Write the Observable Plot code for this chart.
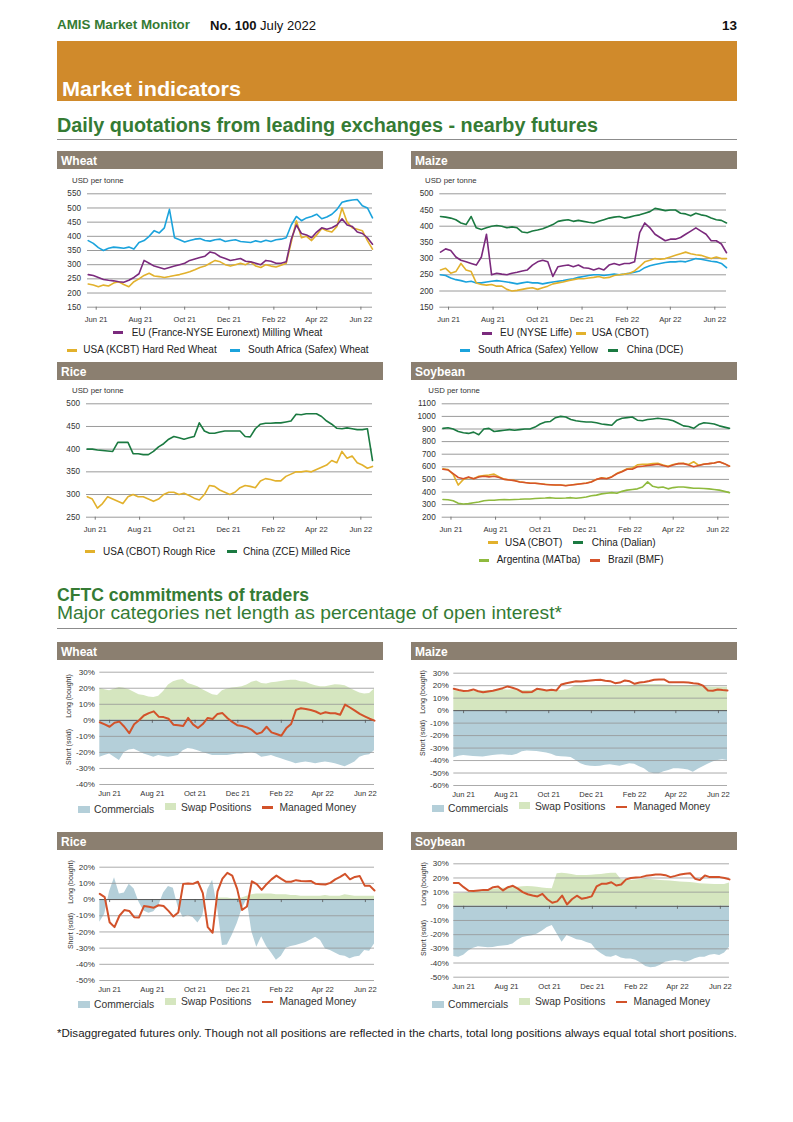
<!DOCTYPE html>
<html><head><meta charset="utf-8">
<script src="https://cdn.jsdelivr.net/npm/d3@7"></script>
<script src="https://cdn.jsdelivr.net/npm/@observablehq/plot@0.6"></script>
<style>
body{margin:0;background:#fff;}
#page{position:relative;width:793px;height:1122px;overflow:hidden;font-family:"Liberation Sans",Arial,Helvetica,sans-serif;}
.t{position:absolute;white-space:nowrap;line-height:1;}
.box{position:absolute;}
.chart{position:absolute;}
.chart svg{overflow:visible;}
</style></head><body><div id="page"></div>
<script>
// ---------------- DATA ----------------
const tickLabels = ["Jun 21","Aug 21","Oct 21","Dec 21","Feb 22","Apr 22","Jun 22"];
const tickDates = [Date.UTC(2021,5,1),Date.UTC(2021,7,1),Date.UTC(2021,9,1),Date.UTC(2021,11,1),Date.UTC(2022,1,1),Date.UTC(2022,3,1),Date.UTC(2022,5,1)].map(t=>new Date(t));
const priceStart = Date.UTC(2021,4,21);   // weekly price quotations (Fridays)
const cftcStart = Date.UTC(2021,4,18);    // weekly CFTC reports (Tuesdays)

// Wheat (USD per tonne)
const wheatEU = [265,262,255,248,245,243,240,238,245,255,268,315,305,295,290,285,290,295,300,305,315,320,325,330,345,340,328,322,315,318,322,312,310,305,300,315,312,305,305,310,390,440,410,405,395,415,430,425,430,440,462,440,435,415,410,395,372];
const wheatUSA = [232,228,222,228,225,235,240,230,222,240,250,262,270,260,258,255,258,262,265,270,275,282,290,295,305,315,310,300,295,300,305,300,310,295,290,300,295,292,298,305,380,455,395,400,385,405,428,420,415,435,500,450,430,425,420,385,355];
const wheatSA = [385,375,360,350,358,362,360,358,362,355,378,385,400,420,412,430,495,395,388,380,385,390,392,385,383,388,390,382,385,388,382,380,378,384,380,386,382,388,390,395,440,470,455,465,470,478,462,468,478,495,520,525,528,530,508,500,465];
// Maize
const maizeEU = [320,330,325,305,295,290,285,280,305,375,250,255,252,250,255,258,262,265,280,290,295,290,245,275,278,280,275,280,272,270,265,270,265,280,285,280,285,285,290,380,410,395,375,365,355,360,360,365,375,385,395,385,375,355,355,345,318];
const maizeUSA = [265,270,255,260,285,265,260,225,220,218,220,215,215,205,200,202,205,208,210,205,210,215,222,225,228,232,235,238,238,240,242,245,240,242,248,250,252,255,262,275,290,295,300,298,300,305,310,315,320,315,312,310,305,300,305,300,300];
const maizeSA = [250,248,240,235,232,228,230,225,225,228,230,232,230,228,225,222,225,228,225,225,222,225,228,230,232,235,238,242,245,248,250,250,248,250,252,250,252,255,258,262,272,278,282,285,288,290,290,292,290,295,300,298,295,292,290,285,272];
const maizeChina = [430,428,425,420,410,405,430,395,390,395,400,402,400,395,398,395,382,380,385,388,392,398,405,415,418,420,415,418,415,412,410,415,420,425,428,430,425,428,432,435,440,445,455,452,448,450,450,440,438,432,440,435,432,425,420,418,410];
// Rice
const riceChina = [400,400,398,397,396,395,415,415,415,390,390,388,388,395,405,412,422,428,425,422,425,428,458,440,435,435,438,440,440,440,440,428,427,445,455,457,457,458,458,460,462,477,476,478,478,478,472,462,455,446,445,447,445,443,443,445,375];
const riceUSA = [295,290,270,280,295,290,285,280,295,300,295,295,290,285,290,300,305,305,300,303,298,292,288,300,320,318,310,305,300,305,315,320,318,315,330,335,333,330,330,340,345,350,350,352,350,355,360,365,375,370,395,380,385,370,365,358,362];
// Soybean
const soyChina = [905,910,900,880,870,865,875,855,900,905,880,885,890,895,890,895,900,900,915,940,955,960,990,1000,995,975,965,960,955,955,950,940,935,930,970,985,990,995,970,965,975,980,985,980,975,965,945,925,920,905,935,950,945,940,925,915,905];
const soyBrazil = [580,575,545,515,505,520,505,520,525,520,525,515,500,495,490,480,475,470,470,465,460,458,455,455,450,455,460,465,470,480,500,510,505,520,545,560,580,580,600,605,610,615,620,610,600,615,625,625,615,600,610,620,625,630,640,625,605];
const soyUSA = [585,578,540,455,500,515,505,525,530,535,542,520,502,495,492,482,476,472,470,466,462,458,456,455,452,456,462,466,472,482,500,512,507,522,548,565,585,590,615,620,620,625,628,615,605,618,625,628,618,640,612,622,625,630,640,625,605];
const soyArgentina = [340,338,330,310,305,308,315,320,330,335,335,338,340,338,340,342,345,345,348,350,352,355,350,350,352,355,350,355,360,370,375,385,390,395,390,405,415,420,425,440,480,445,435,440,425,435,440,440,435,430,430,428,425,420,415,405,395];

// CFTC net length (% of open interest)
const wheatMM = [-1.2,-2.5,-4,-1.5,-0.8,-4,-8,-2.5,0,3,4.5,5.6,2.3,2,1,-2.7,-3,-3.5,1.5,-2.5,-4.8,-2.3,1.5,0.8,4,4.5,1.5,-1,-3,-3.5,-4.4,-6,-8.5,-7.5,-4,-7.5,-8.5,-9.6,-5,-2.3,6.5,7.5,7,6.4,5.5,4,5,4.4,4.4,3.5,9.8,8,6,4,2.5,1,-0.2];
const wheatSwap = [20,19,18.5,19.5,20.5,20,19,17.5,16,15.4,14.5,14.3,15,18,22,24,25,25.5,23,22,21,19,17.5,16,15.4,18.5,19.5,20.2,20.5,21,22,23.7,24.5,23,22.7,23.5,23.7,24.2,24.7,25,25,24,23.7,22.5,21.6,21,21,21.5,22.2,22,21.6,20,18.5,17,16.4,16.8,19.5];
const wheatComm = [-23,-22,-21,-23,-25,-20,-18.5,-18,-19.5,-21,-22,-23,-22,-22.5,-23,-22.5,-22,-19,-17.5,-18,-19,-20,-21,-22,-22,-22,-22,-21.5,-21,-21,-20.5,-20,-21,-23,-22.5,-22,-23,-24,-25,-26,-27,-26.5,-26,-26.5,-27,-26.5,-26,-26.5,-27,-28,-29,-27.5,-26,-23,-22,-21.5,-19];
const maizeMM = [17.5,16.5,15.7,16,17,15.5,14.8,15.4,16,17,18,19.4,18.3,17,14.8,14.8,15,17.5,17,16.2,16.7,16.2,21,22,22.8,23.5,23.4,23.8,24.2,24.5,24.7,24,23.6,22,22.5,24.2,23.5,21.5,22.5,23,23.8,24.7,25,25,22.8,22.8,22.8,22.7,22.6,22,21.5,20,16.2,16,17,16.5,16.2];
const maizeSwap = [16.2,15.5,14.8,15,15.5,15.7,16,16.2,16.2,16.5,16.7,16.5,16.7,16.5,16.2,16.2,16.2,16.2,16.2,16.2,16.2,16.2,16.2,16.5,18,20.2,20.2,20,19.4,19.5,19.8,20.2,20,19.8,19.5,19.4,20,20.5,21,21,21,21,21,20.8,20.5,20.2,20.2,20.2,20.2,20.2,20,19.5,19,18.8,18.8,18.8,18.8];
const maizeComm = [-37.8,-36.5,-36,-36.3,-36.7,-37,-37.2,-36.5,-36,-35.5,-35.4,-35.8,-36,-35,-33,-32.4,-32.5,-32.7,-33.3,-34,-35,-36.5,-37,-37.2,-37.5,-39.9,-42.5,-43.9,-44.5,-44.7,-44.5,-43.8,-43.4,-44,-44.5,-43.5,-42.5,-43,-45,-46.6,-49.5,-50.5,-50.6,-49,-48,-46.6,-46.6,-46.9,-47.5,-49.3,-47,-45,-43,-41.2,-40,-39.4,-39.9];
const riceMM = [3.5,1.5,-14,-17,-10,-6.5,-7,-10.9,-11,-4,-4.5,-5,-3.5,-4,-7,-10.5,-8,9.7,10,9.7,11,4,-17,-20.5,5,13,16.5,14.8,6.6,-6.4,-4.3,11.3,9.5,6,9.5,12.5,14.8,12.8,11,11,12,11.5,11.3,11.5,9.7,9.5,9.3,10.3,12.5,14,15.9,12.5,14,14.5,8.6,8.6,5.6];
const riceSwap = [0,0,0,0,0,0,0,0,0,0,0,0,0,0,0,0,0,0,0,0,0,0,0,0.5,1,1,1,0.5,0.5,1,2,3,3.5,3.5,3.5,3.5,3,3,3,2.5,2.5,2,2,2,2,2,2.5,2,2,2,3,2.5,2,2,2,2,2];
const riceComm = [-14,-9,5,13.5,3.5,4,9.5,6.5,-1.6,-7,-8.5,-7.5,-4,4,8,7,-5,-11,-10,-11,-14.5,-10,6,12,-5,-28.4,-28,-22,-15,-6,0.4,-20,-29.4,-23,-29,-33,-37.5,-35,-30,-29,-28.4,-27.5,-26.5,-25,-23.3,-25.3,-30.5,-31.5,-33,-34.5,-35,-36.5,-35.5,-35,-31.5,-32,-27.4];
const soyMM = [16.4,16.4,13.5,11,10.8,11.2,11.6,11.6,13.5,14,11.2,13.5,14.5,12.5,10,8.5,7.6,7,8.8,5,2.5,3.5,7.6,1.3,5,7.5,5.3,6,7,14,15.9,15.9,17,14.7,15.4,19,20,20.3,20.6,21.5,22,22.5,22.5,22,20.6,21.5,22.5,23,23.4,19.5,18.5,21.8,20.6,20.6,20.6,20,19];
const soySwap = [8.8,9,9.3,9.5,10,10.5,11,11.5,12,12.4,12.8,13,13.3,13.5,13.8,14,13.8,13.5,13,12.5,12.4,23,23.4,22.9,22.5,21.8,21.8,21.8,22,22.3,22.5,23,23.4,23.4,19,18.5,18.2,18.5,19,19.4,19,18.5,18.2,18,17.8,17.5,17.2,17,16.8,16.5,15.9,15.7,15.5,15.4,15.4,15.4,16.4];
const soyComm = [-35.4,-35.9,-34.5,-31.5,-29.5,-28.5,-28.8,-29.3,-29,-28.4,-28,-27.6,-26.5,-24,-22,-21.3,-20.8,-19.5,-17.5,-15,-13.5,-19.5,-25.3,-20.6,-22,-23.5,-24.1,-25.5,-26.5,-31,-33.5,-35.5,-35.9,-34.7,-36.5,-37.1,-37.1,-38,-40,-42.5,-43.4,-43,-41.5,-39.5,-38.7,-38.2,-38.5,-39.4,-38.5,-37,-35.9,-35.9,-34.5,-34,-34.7,-33,-28.8];

// ---------------- STYLE ----------------
const C = {eu:"#7b2a7d", usa:"#e2b12c", sa:"#1ba3dc", china:"#1b7a41", arg:"#8fba3e", bra:"#d6532b",
  comm:"#b4cfd9", swap:"#d5e6bf", mm:"#d2522a", green:"#357b34", bar:"#8b7f70"};
const FONT = '"Liberation Sans", Arial, Helvetica, sans-serif';
const page = document.getElementById("page");
const DAY = 864e5;
const priceDates = wheatEU.map((_, i) => new Date(priceStart + i * 7 * DAY));
const cftcDates = wheatMM.map((_, i) => new Date(cftcStart + i * 7 * DAY));
const fmtTick = d => tickLabels[tickDates.findIndex(t => +t === +d)];

function text(s, x, y, css = {}) {
  const d = document.createElement("div");
  d.className = "t"; d.textContent = s;
  Object.assign(d.style, {left: x + "px", top: y + "px", transform: "translateY(-50%)"}, css);
  page.appendChild(d); return d;
}
function fit(d, w) {
  const r = d.getBoundingClientRect().width;
  d.style.transformOrigin = "left center";
  d.style.transform = `translateY(-50%) scaleX(${w / r})`;
}
function box(x, y, w, h, bg) {
  const d = document.createElement("div"); d.className = "box";
  Object.assign(d.style, {left: x + "px", top: y + "px", width: w + "px", height: h + "px", background: bg});
  page.appendChild(d); return d;
}
function bar(x, y, label) {
  box(x, y, 326, 18, C.bar);
  text(label, x + 4, y + 9.5, {color: "#fff", fontWeight: "bold", fontSize: "12px"});
}
function vlabel(s, x, y) {
  text(s, x, y, {fontSize: "7px", color: "#333", transform: "translate(-50%,-50%) rotate(-90deg)"});
}
function place(svg, left, top) {
  const d = document.createElement("div"); d.className = "chart";
  d.style.left = left + "px"; d.style.top = top + "px";
  d.appendChild(svg); page.appendChild(d);
}

function priceChart({left, top, height, mL, mR, mT, mB, yDomain, yStep, series}) {
  const yTicks = d3.range(yDomain[0], yDomain[1] + 1, yStep);
  const marks = [
    Plot.gridY(yTicks, {stroke: "#8e8e8e", strokeOpacity: 1, strokeWidth: 0.9}),
    Plot.axisY(yTicks, {tickSize: 0, tickPadding: 6.5, tickFormat: d => String(d), label: null, fontSize: 8.2, fill: "#333"}),
    Plot.axisX(tickDates, {tickSize: 3, tickPadding: 6.5, tickFormat: fmtTick, label: null, fontSize: 7.6, fill: "#333", stroke: "#777"})
  ];
  for (const s of series) {
    const data = s.values.map((v, i) => ({date: priceDates[i], value: v}));
    marks.push(Plot.lineY(data, {x: "date", y: "value", stroke: s.color, strokeWidth: 1.6, strokeLinejoin: "round"}));
  }
  const svg = Plot.plot({
    width: 326, height, marginLeft: mL, marginRight: mR, marginTop: mT, marginBottom: mB,
    style: {fontFamily: FONT, fontSize: "8px", color: "#333", background: "transparent"},
    x: {type: "utc", domain: [new Date(Date.UTC(2021,4,20)), new Date(Date.UTC(2022,5,17))]},
    y: {domain: yDomain},
    marks
  });
  place(svg, left, top);
}

function cftcChart({left, top, height, mL, mR, mT, mB, yDomain, comm, swap, mm}) {
  const yTicks = d3.range(yDomain[0], yDomain[1] + 1, 10);
  const frameH = height - mT - mB;
  const tickLen = 3 * (yDomain[1] - yDomain[0]) / frameH;
  const rows = arr => arr.map((v, i) => ({date: cftcDates[i], value: v}));
  const svg = Plot.plot({
    width: 326, height, marginLeft: mL, marginRight: mR, marginTop: mT, marginBottom: mB,
    style: {fontFamily: FONT, fontSize: "8px", color: "#333", background: "transparent"},
    x: {type: "utc", domain: [new Date(Date.UTC(2021,4,18)), new Date(Date.UTC(2022,5,14))]},
    y: {domain: yDomain},
    marks: [
      Plot.areaY(rows(swap), {x: "date", y1: 0, y2: "value", fill: C.swap}),
      Plot.areaY(rows(comm), {x: "date", y1: 0, y2: "value", fill: C.comm}),
      Plot.gridY(yTicks.filter(t => t !== 0), {stroke: "#959595", strokeOpacity: 1, strokeWidth: 0.8}),
      Plot.ruleY([0], {stroke: "#555", strokeWidth: 1}),
      Plot.ruleX(tickDates, {x: d => d, y1: 0, y2: -tickLen, stroke: "#555", strokeWidth: 0.8}),
      Plot.axisY(yTicks, {tickSize: 0, tickPadding: 5, tickFormat: d => d + "%", label: null, fontSize: 8, fill: "#333"}),
      Plot.axisX(tickDates, {tickSize: 0, tickPadding: 6, tickFormat: fmtTick, label: null, fontSize: 7.6, fill: "#333"}),
      Plot.lineY(rows(mm), {x: "date", y: "value", stroke: C.mm, strokeWidth: 2, strokeLinejoin: "round"})
    ]
  });
  place(svg, left, top);
}

function lineKey(x, y, color, label, tx) {
  box(x, y - 1.5, 10, 3, color);
  text(label, tx, y, {fontSize: "10px", color: "#222"});
}
function cftcLegend(x0, yc) {
  box(x0 + 21, yc - 1.5, 11.7, 7, C.comm);
  text("Commercials", x0 + 37, yc + 2.5, {fontSize: "10.3px", color: "#333"});
  box(x0 + 107.5, yc - 4.5, 11.7, 7, C.swap);
  text("Swap Positions", x0 + 124, yc, {fontSize: "10.3px", color: "#333"});
  box(x0 + 204.5, yc - 1.2, 11, 2.6, C.mm);
  text("Managed Money", x0 + 222.5, yc, {fontSize: "10.3px", color: "#333"});
}

// ---------------- PAGE ----------------
fit(text("AMIS Market Monitor", 57, 25, {color: C.green, fontWeight: "bold", fontSize: "12.5px"}), 133);
const issue = text("", 210, 25, {color: "#111", fontSize: "13px"});
issue.innerHTML = '<b>No. 100</b> July 2022';
fit(issue, 106);
fit(text("13", 722, 25, {color: "#111", fontWeight: "bold", fontSize: "13px"}), 15);

box(57, 41, 680, 60, "#d08a2b");
fit(text("Market indicators", 62, 88.5, {color: "#fff", fontWeight: "bold", fontSize: "20.5px"}), 179);
fit(text("Daily quotations from leading exchanges - nearby futures", 57, 126, {color: C.green, fontWeight: "bold", fontSize: "19.5px"}), 541);
box(57, 139, 680, 1, "#8c8c8c");

bar(57, 151, "Wheat"); bar(411, 151, "Maize");
bar(57, 362, "Rice"); bar(411, 362, "Soybean");

const unit = {fontSize: "7.8px", color: "#333"};
text("USD per tonne", 72, 180.5, unit);
text("USD per tonne", 425, 180.5, unit);
text("USD per tonne", 72, 390.7, unit);
text("USD per tonne", 428.3, 390.7, unit);

priceChart({left: 57, top: 170, height: 155, mL: 30, mR: 11, mT: 23.3, mB: 18.3, yDomain: [150, 550], yStep: 50,
  series: [{values: wheatUSA, color: C.usa}, {values: wheatEU, color: C.eu}, {values: wheatSA, color: C.sa}]});
priceChart({left: 411, top: 170, height: 155, mL: 28.3, mR: 11, mT: 23.3, mB: 18.3, yDomain: [150, 500], yStep: 50,
  series: [{values: maizeChina, color: C.china}, {values: maizeSA, color: C.sa}, {values: maizeUSA, color: C.usa}, {values: maizeEU, color: C.eu}]});
priceChart({left: 57, top: 381, height: 154, mL: 29, mR: 11, mT: 22.3, mB: 18.3, yDomain: [250, 500], yStep: 50,
  series: [{values: riceUSA, color: C.usa}, {values: riceChina, color: C.china}]});
priceChart({left: 411, top: 381, height: 154, mL: 30.7, mR: 8, mT: 22.3, mB: 18.3, yDomain: [200, 1100], yStep: 100,
  series: [{values: soyChina, color: C.china}, {values: soyArgentina, color: C.arg}, {values: soyUSA, color: C.usa}, {values: soyBrazil, color: C.bra}]});

lineKey(113, 332.7, C.eu, "EU (France-NYSE Euronext) Milling Wheat", 131.7);
lineKey(66.7, 350, C.usa, "USA (KCBT) Hard Red Wheat", 83.3);
lineKey(230, 350, C.sa, "South Africa (Safex) Wheat", 248);
lineKey(481.7, 333, C.eu, "EU (NYSE Liffe)", 500);
lineKey(575.7, 333, C.usa, "USA (CBOT)", 591.7);
lineKey(460, 350, C.sa, "South Africa (Safex) Yellow", 478);
lineKey(608, 350, C.china, "China (DCE)", 626.7);
lineKey(85, 551.7, C.usa, "USA (CBOT) Rough Rice", 103);
lineKey(226.7, 551.7, C.china, "China (ZCE) Milled Rice", 243);
lineKey(488, 542.7, C.usa, "USA (CBOT)", 505);
lineKey(573, 542.7, C.china, "China (Dalian)", 591.7);
lineKey(479, 560, C.arg, "Argentina (MATba)", 496.7);
lineKey(590, 560, C.bra, "Brazil (BMF)", 608);

fit(text("CFTC commitments of traders", 57, 595.5, {color: C.green, fontWeight: "bold", fontSize: "17.5px"}), 252);
fit(text("Major categories net length as percentage of open interest*", 57, 613.5, {color: C.green, fontSize: "17.5px"}), 505);
box(57, 628, 680, 1, "#8c8c8c");

bar(57, 642, "Wheat"); bar(411, 642, "Maize");
bar(57, 832, "Rice"); bar(411, 832, "Soybean");

cftcChart({left: 57, top: 661, height: 137, mL: 42.3, mR: 9, mT: 10.7, mB: 14, yDomain: [-40, 30], comm: wheatComm, swap: wheatSwap, mm: wheatMM});
cftcChart({left: 411, top: 661, height: 138, mL: 42.3, mR: 10, mT: 11.7, mB: 14, yDomain: [-60, 30], comm: maizeComm, swap: maizeSwap, mm: maizeMM});
cftcChart({left: 57, top: 851, height: 143, mL: 42.3, mR: 9, mT: 15.7, mB: 14, yDomain: [-50, 20], comm: riceComm, swap: riceSwap, mm: riceMM});
cftcChart({left: 411, top: 851, height: 139.7, mL: 42.3, mR: 8, mT: 12.3, mB: 14, yDomain: [-50, 30], comm: soyComm, swap: soySwap, mm: soyMM});

vlabel("Long (bought)", 68, 696); vlabel("Short (sold)", 68, 747);
vlabel("Long (bought)", 422, 691.7); vlabel("Short (sold)", 422, 738);
vlabel("Long (bought)", 70, 881.7); vlabel("Short (sold)", 70, 931);
vlabel("Long (bought)", 422.7, 884); vlabel("Short (sold)", 422.7, 938);

cftcLegend(57, 807.5);
cftcLegend(411, 806.7);
cftcLegend(57, 1002);
cftcLegend(411, 1002);

fit(text("*Disaggregated futures only. Though not all positions are reflected in the charts, total long positions always equal total short positions.", 57, 1033, {fontSize: "10.5px", color: "#222"}), 680);
</script></body></html>
